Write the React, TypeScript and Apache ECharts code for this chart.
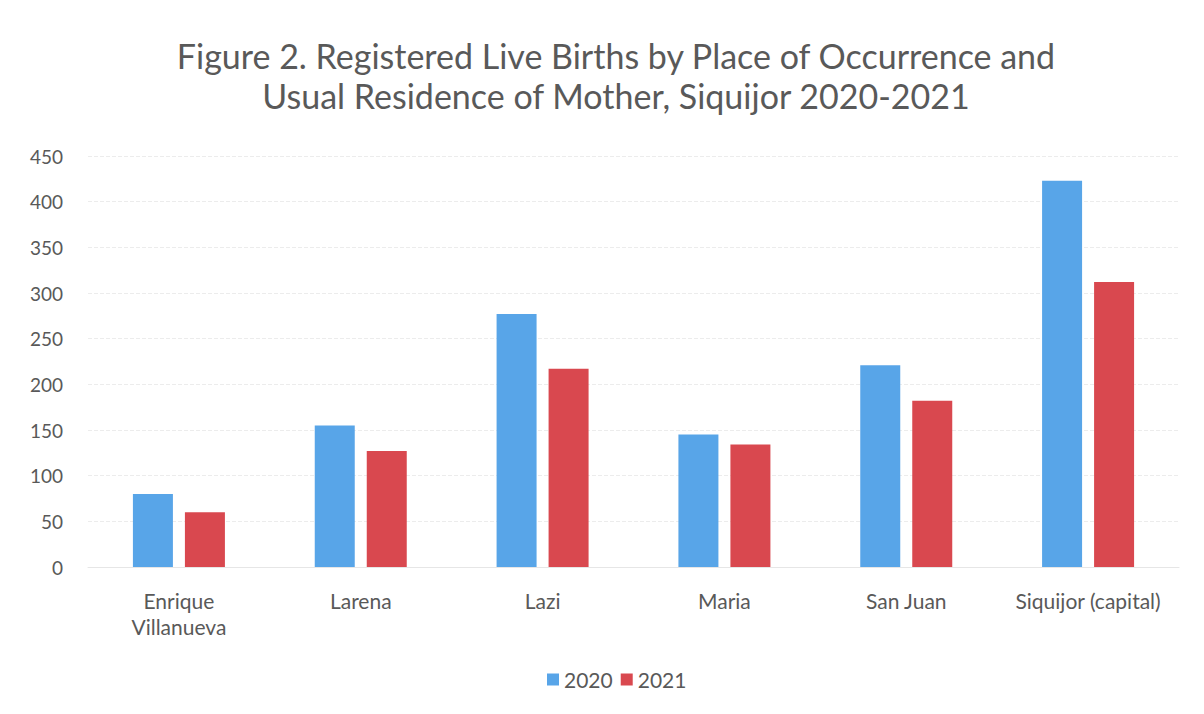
import React, { useEffect, useRef } from "react";
import * as echarts from "echarts";

const categories = ["Enrique\nVillanueva", "Larena", "Lazi", "Maria", "San Juan", "Siquijor (capital)"];
const values2020 = [80, 155, 277, 145, 221, 423];
const values2021 = [60, 127, 217, 134, 182, 312];
const seriesNames = ["2020", "2021"];
const titleLines = [
  "Figure 2. Registered Live Births by Place of Occurrence and",
  "Usual Residence of Mother, Siquijor 2020-2021",
];

const FONT = "Lato, 'Noto Sans', sans-serif";
const GREY = "#595959";

export default function App() {
  const ref = useRef<HTMLDivElement>(null);
  useEffect(() => {
    if (!ref.current) return;
    const chart = echarts.init(ref.current, undefined, { renderer: "svg" });
    chart.setOption({
      animation: false,
      backgroundColor: "#ffffff",
      title: {
        text: titleLines.join("\n"),
        left: 611,
        textAlign: "center",
        top: 30,
        textStyle: {
          fontFamily: FONT,
          fontSize: 34,
          fontWeight: "normal",
          color: GREY,
          lineHeight: 40,
        },
      },
      legend: {
        data: seriesNames,
        bottom: 19,
        left: 542,
        itemWidth: 12,
        itemHeight: 12,
        itemGap: 8,
        icon: "rect",
        textStyle: { fontFamily: FONT, fontSize: 21, color: GREY },
      },
      grid: { left: 88, right: 25, top: 156, bottom: 147 },
      xAxis: {
        type: "category",
        data: categories,
        axisLine: { show: true, lineStyle: { color: "#e6e6e6" } },
        axisTick: { show: false },
        axisLabel: {
          fontFamily: FONT,
          fontSize: 21,
          color: GREY,
          margin: 20,
          lineHeight: 26,
          interval: 0,
        },
      },
      yAxis: {
        type: "value",
        min: 0,
        max: 450,
        interval: 50,
        axisLine: { show: false },
        axisTick: { show: false },
        splitLine: { lineStyle: { color: "#ececec", type: "dashed" } },
        axisLabel: { fontFamily: FONT, fontSize: 19, color: GREY, margin: 25 },
      },
      series: [
        {
          name: seriesNames[0],
          type: "bar",
          data: values2020,
          barWidth: 40,
          barGap: "30%",
          itemStyle: { color: "#58a5e8" },
        },
        {
          name: seriesNames[1],
          type: "bar",
          data: values2021,
          barWidth: 40,
          itemStyle: { color: "#d9484f" },
        },
      ],
    });
    return () => chart.dispose();
  }, []);
  return <div ref={ref} style={{ width: 1204, height: 714, margin: -8 }} />;
}
